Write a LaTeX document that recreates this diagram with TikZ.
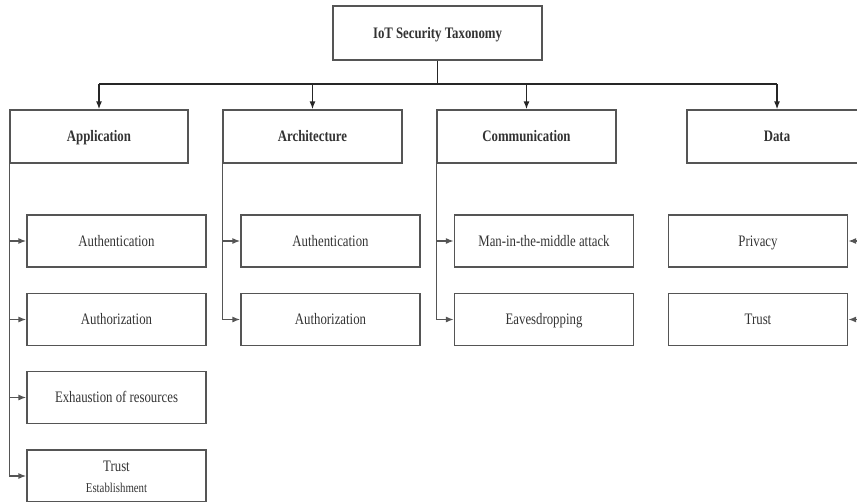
\documentclass[tikz,border=0pt]{standalone}
\usepackage{fontspec}
\setmainfont[FakeStretch=0.8]{Liberation Serif}
\usetikzlibrary{arrows.meta}
\definecolor{ink}{HTML}{333333}
\definecolor{edge}{HTML}{555555}
\begin{document}
\begin{tikzpicture}[x=1pt,y=-1pt,
  box/.style={draw=edge, line width=1.3pt, text=ink, inner sep=0pt,
    minimum width=179pt, minimum height=52pt,
    text height=11pt, text depth=1pt,
    font=\fontsize{16}{18}\selectfont},
  head/.style={box, minimum height=53pt, font=\fontsize{16}{18}\selectfont\bfseries},
  plain/.style={text=ink, inner sep=0pt, font=\fontsize{16}{18}\selectfont},
  link/.style={draw=edge, line width=1.3pt},
  tip/.style={link, -{Latex[length=8pt,width=6pt]}},
  bus/.style={draw=black!85, line width=1.3pt}]
\useasboundingbox (0,0) rectangle (857,501);
\clip (0,0) rectangle (857,501);

% root
\node[head, minimum width=209pt, minimum height=54pt] (root) at (437.5,33) {IoT Security Taxonomy};

% category headers
\node[head, minimum width=178pt] (app)  at (99,136.5)  {Application};
\node[head] (arch) at (312.5,136.5) {Architecture};
\node[head] (comm) at (526.5,136.5) {Communication};
\node[head, minimum width=180pt] (data) at (777,136.5) {Data};

% application items
\node[box] (a1) at (116.5,241) {Authentication};
\node[box] (a2) at (116.5,319.5) {Authorization};
\node[box] (a3) at (116.5,397.5) {Exhaustion of resources};
\node[box] (a4) at (116.5,476) {};
\node[plain] (a4t) at (116.5,466) {Trust};
\node[plain, font=\fontsize{13.5}{15}\selectfont] (a4e) at (116.5,488) {Establishment};

% architecture items
\node[box] (r1) at (330.5,241) {Authentication};
\node[box] (r2) at (330.5,319.5) {Authorization};

% communication items
\node[box] (c1) at (544,241) {Man-in-the-middle attack};
\node[box] (c2) at (544,319.5) {Eavesdropping};

% data items
\node[box] (d1) at (758,241) {Privacy};
\node[box] (d2) at (758,319.5) {Trust};

% distribution bus under the root
\coordinate (busy) at (437.5,84);
\draw[bus] (root.south) -- (busy);
\draw[bus] (app.north |- busy) -- (data.north |- busy);
\foreach \h in {app,arch,comm,data}
  \draw[tip, draw=black!85] (\h.north |- busy) -- (\h.north);

% left-hand spines with item arrows
\draw[link] (app.south west) -- (app.south west |- a4.west);
\foreach \i in {a1,a2,a3,a4}
  \draw[tip] (app.south west |- \i.west) -- (\i.west);
\draw[link] (arch.south west) -- (arch.south west |- r2.west);
\foreach \i in {r1,r2}
  \draw[tip] (arch.south west |- \i.west) -- (\i.west);
\draw[link] (comm.south west) -- (comm.south west |- c2.west);
\foreach \i in {c1,c2}
  \draw[tip] (comm.south west |- \i.west) -- (\i.west);

% right-hand spine for data items
\draw[link] (data.south east) -- (data.south east |- d2.east);
\foreach \i in {d1,d2}
  \draw[tip] (data.south east |- \i.east) -- (\i.east);
\end{tikzpicture}
\end{document}
